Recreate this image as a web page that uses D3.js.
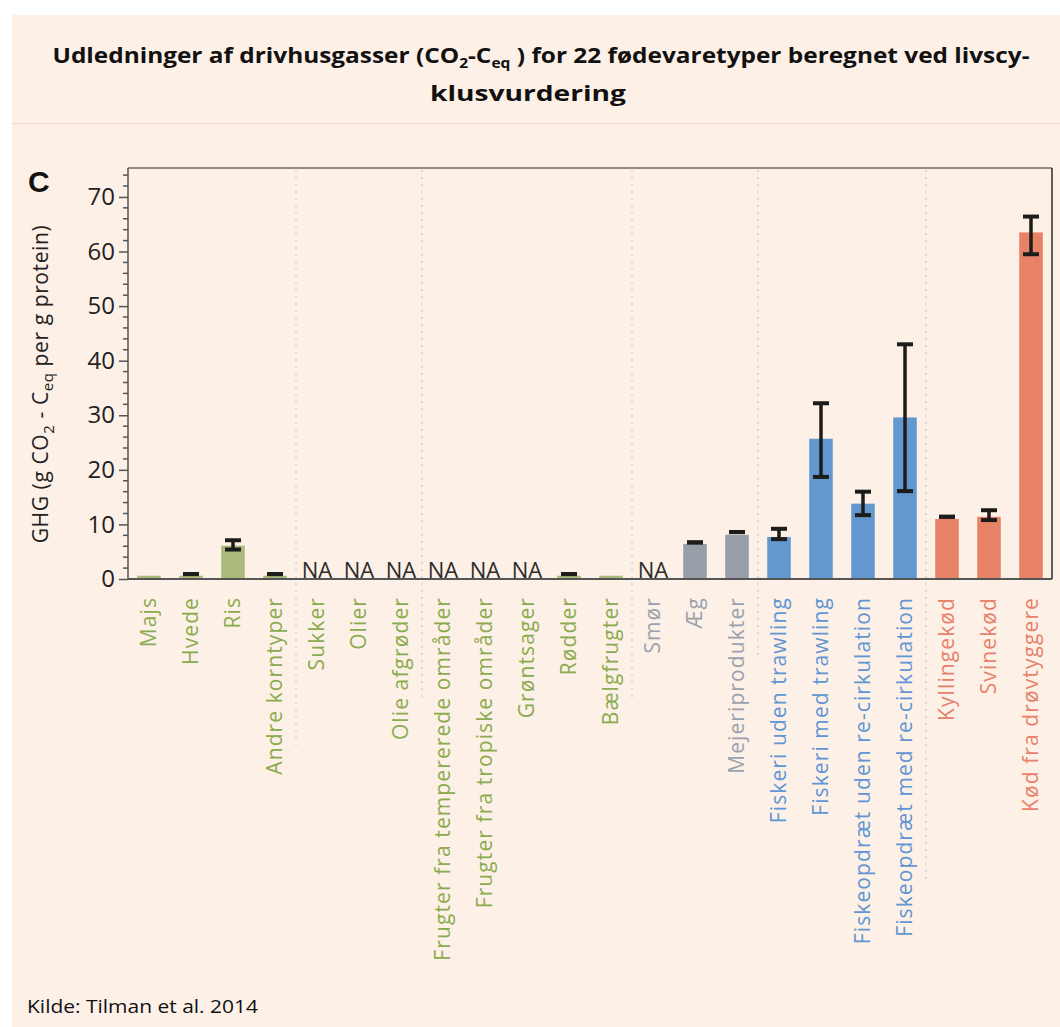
<!DOCTYPE html>
<html><head><meta charset="utf-8">
<script src="https://cdn.jsdelivr.net/npm/d3@7"></script>
<style>html,body{margin:0;padding:0;background:#fff;}svg{display:block;}</style>
</head><body>
<svg id="chart" width="1060" height="1027"></svg>
<script>
// ---- data ----
const categories = ["Majs","Hvede","Ris","Andre korntyper","Sukker","Olier","Olie afgrøder",
  "Frugter fra tempererede områder","Frugter fra tropiske områder","Grøntsager","Rødder","Bælgfrugter",
  "Smør","Æg","Mejeriprodukter","Fiskeri uden trawling","Fiskeri med trawling",
  "Fiskeopdræt uden re-cirkulation","Fiskeopdræt med  re-cirkulation","Kyllingekød","Svinekød","Kød fra drøvtyggere"];
const groups = ["plant","plant","plant","plant","plant","plant","plant","plant","plant","plant","plant","plant",
  "animal","animal","animal","fish","fish","fish","fish","meat","meat","meat"];
const values  = [0.6,0.6,6.1,0.6,null,null,null,null,null,null,0.6,0.6,null,6.4,8.1,7.7,25.7,13.8,29.6,11.0,11.4,63.5];
const errLow  = [null,0.9,5.4,0.9,null,null,null,null,null,null,0.9,null,null,6.7,8.6,7.3,18.7,11.7,16.1,11.4,10.8,59.5];
const errHigh = [null,0.9,7.1,0.9,null,null,null,null,null,null,0.9,null,null,6.7,8.6,9.2,32.2,16.0,43.0,11.4,12.6,66.4];
const yTicks = [0,10,20,30,40,50,60,70];
const separatorsAfter = [3,6,11,14,18];
const separatorEnds = [745,697,697,658,882];

const barColor = {plant:"#abba7a", animal:"#979ea8", fish:"#6298cf", meat:"#e78266"};
const labelColor = {plant:"#8aab4e", animal:"#9aa2ad", fish:"#5f96d3", meat:"#e8816a"};

(function(){
const svg = d3.select("#chart");
const FONT = "'Open Sans', 'Noto Sans', sans-serif";

// background panel
svg.append("rect").attr("x",12).attr("y",15).attr("width",1048).attr("height",1012).attr("fill","#fdf0e7");
svg.append("line").attr("x1",12).attr("x2",1060).attr("y1",123.5).attr("y2",123.5).attr("stroke","#f2d9c8").attr("stroke-width",1.2);

// title
const t1 = svg.append("text").attr("x",541).attr("y",63).attr("text-anchor","middle")
  .attr("font-family",FONT).attr("font-weight","bold").attr("font-size",22).attr("fill","#111")
  .attr("textLength",977).attr("lengthAdjust","spacingAndGlyphs");
t1.append("tspan").text("Udledninger af drivhusgasser (CO");
t1.append("tspan").attr("font-size",14).attr("dy",5).text("2");
t1.append("tspan").attr("dy",-5).text("-C");
t1.append("tspan").attr("font-size",14).attr("dy",5).text("eq");
t1.append("tspan").attr("dy",-5).text(" ) for 22 fødevaretyper beregnet ved livscy-");
svg.append("text").attr("x",528).attr("y",101).attr("text-anchor","middle")
  .attr("font-family",FONT).attr("font-weight","bold").attr("font-size",22).attr("fill","#111")
  .attr("textLength",196).attr("lengthAdjust","spacingAndGlyphs").text("klusvurdering");

// panel letter
svg.append("text").attr("x",28).attr("y",192).attr("font-family","'Liberation Sans', Arial, sans-serif")
  .attr("font-weight","bold").attr("font-size",30).attr("fill","#111").text("C");

// scales
const pLeft = 128, pRight = 1052, pTop = 168, pBottom = 579;
const x = d3.scaleBand().domain(categories).range([pLeft,pRight]).paddingInner(0.44).paddingOuter(0.22);
const step = (pRight-pLeft)/categories.length;
const y = d3.scaleLinear().domain([0,75.3]).range([pBottom,pTop]);

// separators
separatorsAfter.forEach((idx,i)=>{
  const sx = pLeft + step*(idx+1);
  svg.append("line").attr("x1",sx).attr("x2",sx).attr("y1",pTop+2).attr("y2",separatorEnds[i])
    .attr("stroke","#d6d0cb").attr("stroke-width",1.5).attr("stroke-dasharray","2,5");
});

// bars
const data = categories.map((c,i)=>({c, g:groups[i], v:values[i], lo:errLow[i], hi:errHigh[i]}));
svg.append("g").selectAll("rect").data(data.filter(d=>d.v!=null)).join("rect")
  .attr("x",d=>x(d.c)).attr("width",x.bandwidth())
  .attr("y",d=>y(d.v)).attr("height",d=>y(0)-y(d.v))
  .attr("fill",d=>barColor[d.g]);

// error bars
const eb = svg.append("g").attr("stroke","#1c1c1a").attr("stroke-width",4);
data.filter(d=>d.lo!=null).forEach(d=>{
  const cx = x(d.c)+x.bandwidth()/2;
  if (d.hi>d.lo) eb.append("line").attr("x1",cx).attr("x2",cx).attr("y1",y(d.lo)).attr("y2",y(d.hi)).attr("stroke-width",3.5);
  [d.lo,d.hi].forEach(v=>eb.append("line").attr("x1",cx-8).attr("x2",cx+8).attr("y1",y(v)).attr("y2",y(v)));
});

// NA labels
svg.append("g").selectAll("text").data(data.filter(d=>d.v==null)).join("text")
  .attr("x",d=>x(d.c)+x.bandwidth()/2).attr("y",pBottom-1).attr("text-anchor","middle")
  .attr("font-family",FONT).attr("font-size",22).attr("fill","#2b2b2b").text("NA");

// frame
svg.append("line").attr("x1",pLeft).attr("x2",pRight).attr("y1",pTop).attr("y2",pTop).attr("stroke","#6e6a66").attr("stroke-width",1.5);
svg.append("line").attr("x1",pRight).attr("x2",pRight).attr("y1",pTop).attr("y2",pBottom).attr("stroke","#2a2a2a").attr("stroke-width",1.5);

// y axis
const yAxis = d3.axisLeft(y).tickValues(yTicks).tickSize(9).tickPadding(4).tickFormat(d3.format("d"));
const gy = svg.append("g").attr("transform",`translate(${pLeft},0)`).call(yAxis);
gy.select(".domain").remove();
gy.selectAll(".tick line").attr("stroke","#555").attr("stroke-width",1.5);
gy.selectAll(".tick text").attr("font-family",FONT).attr("font-size",24).attr("fill","#222");
const minor = d3.range(0,76,2).filter(v=>v%10!==0);
svg.append("g").selectAll("line").data(minor).join("line")
  .attr("x1",pLeft-5).attr("x2",pLeft).attr("y1",d=>y(d)).attr("y2",d=>y(d)).attr("stroke","#555").attr("stroke-width",1.5);
svg.append("line").attr("x1",pLeft).attr("x2",pLeft).attr("y1",pTop).attr("y2",pBottom).attr("stroke","#555").attr("stroke-width",1.5);

// x axis
const xAxis = d3.axisBottom(x).tickSize(0).tickPadding(0);
const gx = svg.append("g").attr("transform",`translate(0,${pBottom})`).call(xAxis);
gx.select(".domain").attr("stroke","#555").attr("stroke-width",1.8).attr("d",`M${pLeft},0H${pRight}`);
gx.selectAll(".tick text")
  .attr("transform","rotate(-90)").attr("x",-18).attr("y",0).attr("dy","0.35em")
  .attr("text-anchor","end").attr("font-family",FONT).attr("font-size",21).attr("letter-spacing",1.1)
  .attr("fill",(d,i)=>labelColor[groups[i]]);

// y label
const yl = svg.append("text").attr("transform","translate(48,384) rotate(-90)").attr("text-anchor","middle")
  .attr("font-family",FONT).attr("font-size",21).attr("letter-spacing",0.6).attr("fill","#222");
yl.append("tspan").text("GHG (g CO");
yl.append("tspan").attr("font-size",15).attr("dy",6).text("2");
yl.append("tspan").attr("dy",-6).text(" - C");
yl.append("tspan").attr("font-size",15).attr("dy",5).text("eq");
yl.append("tspan").attr("dy",-5).text(" per g protein)");

// source
svg.append("text").attr("x",27).attr("y",1013).attr("font-family",FONT).attr("font-size",19).attr("fill","#111")
  .attr("textLength",231).attr("lengthAdjust","spacingAndGlyphs").text("Kilde: Tilman et al. 2014");
})();
</script>
</body></html>
